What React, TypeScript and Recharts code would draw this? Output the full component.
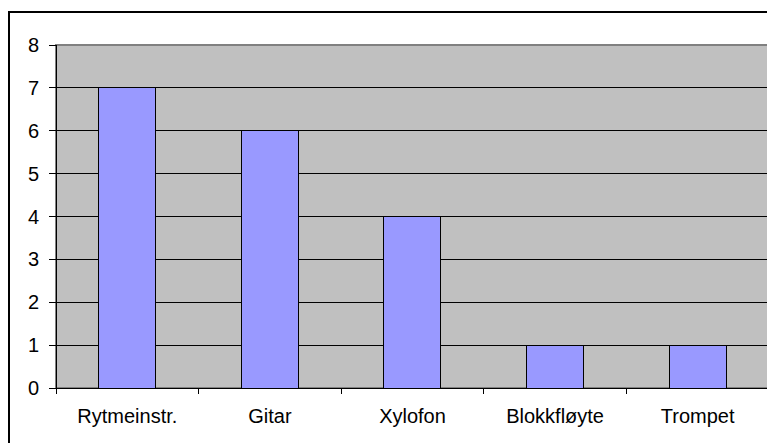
import { Bar, BarChart, CartesianGrid, ReferenceArea, XAxis, YAxis } from "recharts";

const instruments = ["Rytmeinstr.", "Gitar", "Xylofon", "Blokkfløyte", "Trompet"];
const counts = [7, 6, 4, 1, 1];
const yTicks = [0, 1, 2, 3, 4, 5, 6, 7, 8];

const data = instruments.map((name, i) => ({ name, count: counts[i] }));

const font = "'Liberation Sans', Arial, sans-serif";
const plotWidth = 713;
const band = plotWidth / instruments.length;

// keep the thin lines sharp like the original
const crisp = `
.recharts-cartesian-grid line,
.recharts-cartesian-axis-line,
.recharts-cartesian-axis-tick-line,
.recharts-bar-rectangle path,
.recharts-reference-area rect,
.xtick line { shape-rendering: crispEdges; }
`;

function CategoryTick(props: any) {
  const { x, y, payload, index } = props;
  const left = x - band / 2;
  return (
    <g className="xtick">
      <line x1={left} y1={y} x2={left} y2={y + 6} stroke="#000" />
      {index === instruments.length - 1 && (
        <line x1={x + band / 2} y1={y} x2={x + band / 2} y2={y + 6} stroke="#000" />
      )}
      <text x={x} y={y + 35} textAnchor="middle" fill="#000" fontSize={20} fontFamily={font}>
        {payload.value}
      </text>
    </g>
  );
}

export default function App() {
  return (
    <div
      style={{
        position: "relative",
        top: 3,
        width: 767,
        height: 435,
        borderTop: "2px solid #000",
        borderLeft: "2px solid #000",
        boxSizing: "border-box",
        background: "#fff",
      }}
    >
      <style>{crisp}</style>
      <BarChart
        width={765}
        height={433}
        data={data}
        margin={{ top: 32, right: 6, left: 0, bottom: 0 }}
        barCategoryGap="30%"
      >
        <CartesianGrid fill="#C0C0C0" vertical={false} stroke="#000" />
        <ReferenceArea y1={0} y2={8} fill="none" stroke="#808080" strokeWidth={2} ifOverflow="visible" />
        <XAxis
          dataKey="name"
          height={58}
          axisLine={{ stroke: "#000" }}
          tickLine={false}
          tickSize={0}
          tickMargin={0}
          interval={0}
          tick={<CategoryTick />}
        />
        <YAxis
          width={46}
          domain={[0, 8]}
          ticks={yTicks}
          interval={0}
          axisLine={{ stroke: "#000" }}
          tickLine={{ stroke: "#000" }}
          tickSize={7}
          tickMargin={10}
          tick={{ fill: "#000", fontSize: 20, fontFamily: font }}
        />
        <Bar dataKey="count" fill="#9999FF" stroke="#000" strokeWidth={1} isAnimationActive={false} />
      </BarChart>
    </div>
  );
}
